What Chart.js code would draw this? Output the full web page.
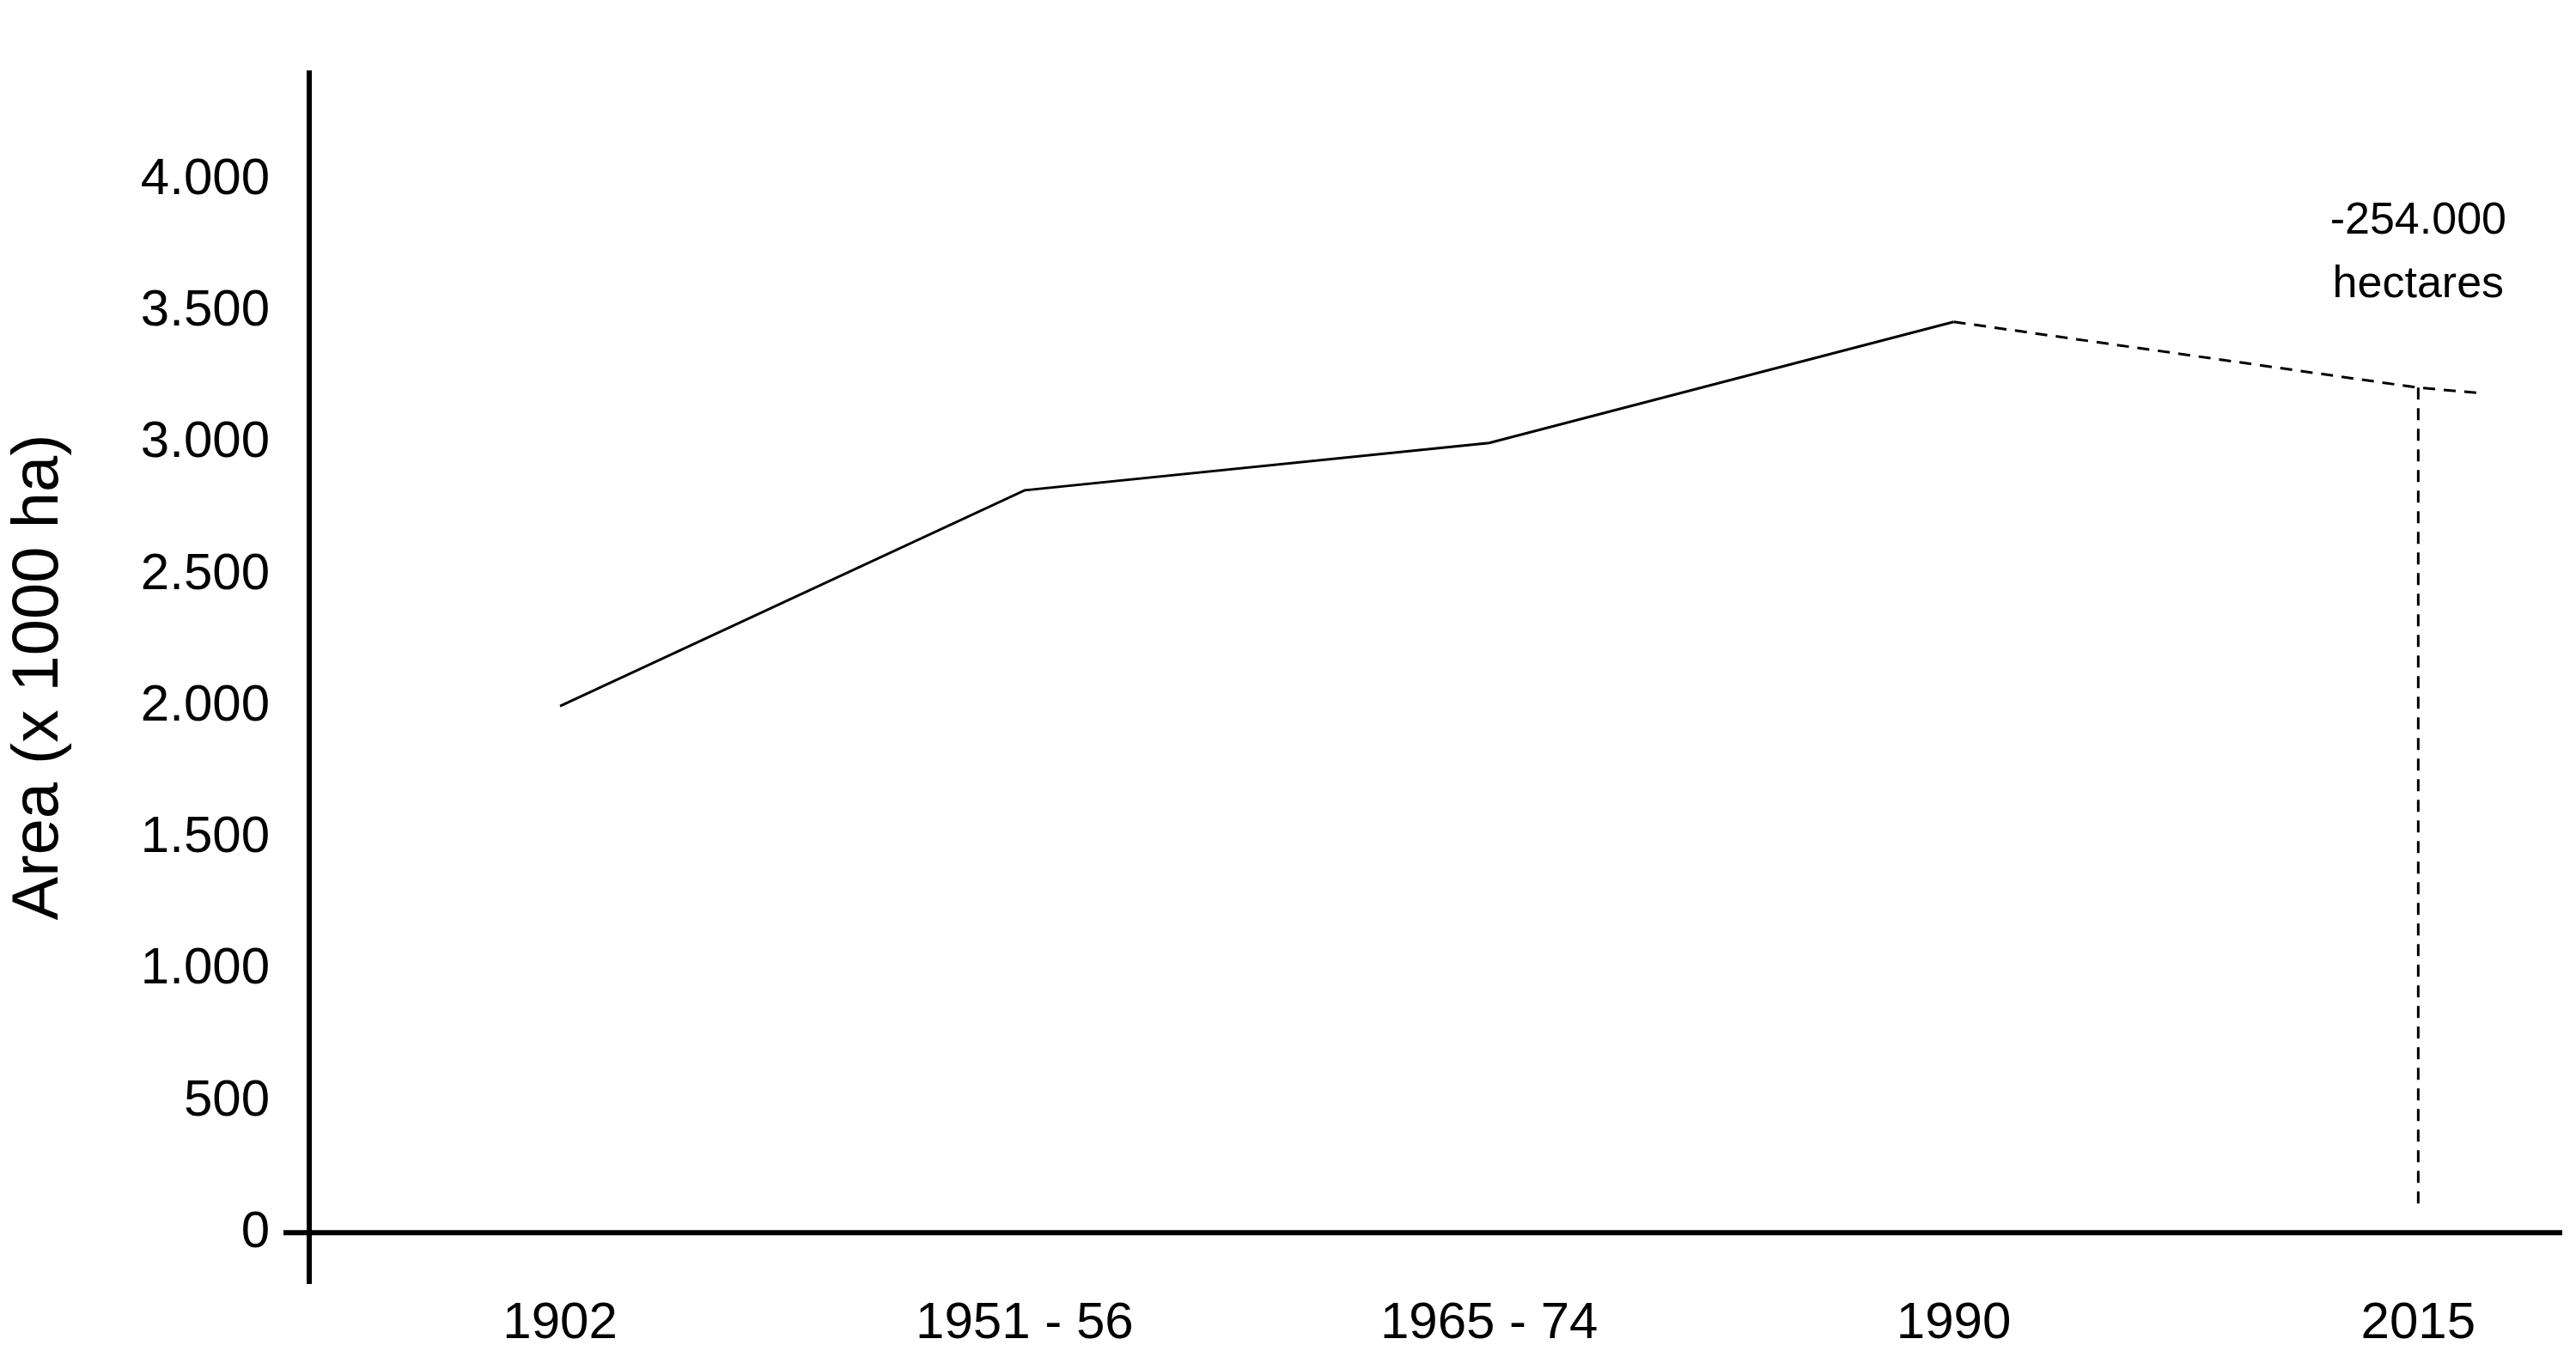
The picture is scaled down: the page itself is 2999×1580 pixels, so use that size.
<!DOCTYPE html>
<html>
<head>
<meta charset="utf-8">
<script src="https://cdn.jsdelivr.net/npm/chart.js@4"></script>
<style>
  html, body { margin: 0; padding: 0; background: #fff; }
  #wrap { width: 2999px; height: 1580px; }
</style>
</head>
<body>
<div id="wrap"><canvas id="chart"></canvas></div>
<script>
// categories and values
var periods = ['1902', '1951 - 56', '1965 - 74', '1990', '2015'];
var area = [2000, 2820, 3000, 3460, 3210];   // x 1000 ha
var tailArea = [3190];                         // dashed line runs a little past 2015
var yTicks = [0, 500, 1000, 1500, 2000, 2500, 3000, 3500, 4000];
var note = ['-254.000', 'hectares'];

var FONT = '"Liberation Sans", Arial, sans-serif';

var solid = [0, 1, 2, 3].map(i => ({ x: i, y: area[i] }));
var dashed = [{ x: 3, y: area[3] }, { x: 4, y: area[4] }, { x: 4.13, y: tailArea[0] }];
var drop = [{ x: 4, y: area[4] }, { x: 4, y: 100 }];

// draws the two axis lines and the note
var axesPlugin = {
    id: 'axes',
    afterDraw(chart) {
        var c = chart.ctx, a = chart.chartArea;
        var y0 = chart.scales.y.getPixelForValue(0);
        c.save();
        c.strokeStyle = '#000';
        c.lineWidth = 6;
        c.beginPath();
        c.moveTo(a.left, a.top);
        c.lineTo(a.left, a.bottom);
        c.moveTo(a.left - 30, y0);
        c.lineTo(a.right, y0);
        c.stroke();
        c.fillStyle = '#000';
        c.font = '52px ' + FONT;
        c.textAlign = 'center';
        c.textBaseline = 'middle';
        var xn = chart.scales.x.getPixelForValue(4);
        c.fillText(note[0], xn, 258);
        c.fillText(note[1], xn, 332);
        c.restore();
    }
};

new Chart(document.getElementById('chart'), {
    type: 'line',
    data: {
        datasets: [
            { data: solid, borderColor: '#000', borderWidth: 3, pointRadius: 0, tension: 0 },
            { data: dashed, borderColor: '#000', borderWidth: 3, borderDash: [14, 10], pointRadius: 0, tension: 0 },
            { data: drop, borderColor: '#000', borderWidth: 3, borderDash: [14, 10], pointRadius: 0 }
        ]
    },
    options: {
        responsive: true,
        maintainAspectRatio: false,
        animation: false,
        layout: { padding: { top: 42, right: 16, left: 0, bottom: 0 } },
        plugins: { legend: { display: false }, tooltip: { enabled: false } },
        scales: {
            x: {
                type: 'linear',
                min: -0.54,
                max: 4.31,
                grid: { display: false, drawTicks: false },
                border: { display: false },
                afterBuildTicks: s => { s.ticks = periods.map((p, i) => ({ value: i })); },
                afterFit: s => { s.height = 85; },
                ticks: {
                    color: '#000',
                    padding: 10,
                    maxRotation: 0,
                    autoSkip: false,
                    font: { family: FONT, size: 60 },
                    callback: v => periods[v]
                }
            },
            y: {
                min: -195,
                max: 4415,
                grid: { display: false, drawTicks: false },
                border: { display: false },
                afterBuildTicks: s => { s.ticks = yTicks.map(v => ({ value: v })); },
                afterFit: s => { s.width = 360; },
                title: {
                    display: true,
                    text: 'Area (x 1000 ha)',
                    color: '#000',
                    padding: 0,
                    font: { family: FONT, size: 76 }
                },
                ticks: {
                    color: '#000',
                    padding: 46,
                    font: { family: FONT, size: 60 },
                    callback: v => v.toLocaleString('de-DE')
                }
            }
        }
    },
    plugins: [axesPlugin]
});
</script>
</body>
</html>
